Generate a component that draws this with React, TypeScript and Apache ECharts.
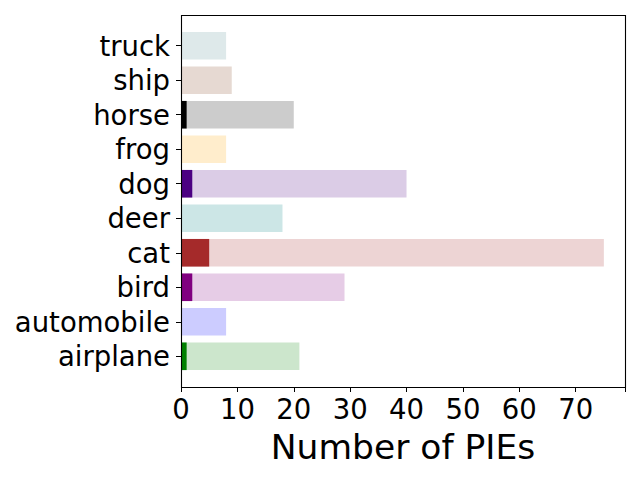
import React, { useEffect, useRef } from "react";
import * as echarts from "echarts";

const categories = ["airplane", "automobile", "bird", "cat", "deer", "dog", "frog", "horse", "ship", "truck"];
const totalValues = [21, 8, 29, 75, 18, 40, 8, 20, 9, 8];
const pieValues = [1, 0, 2, 5, 0, 2, 0, 1, 0, 0];
const lightColors = ["#cce6cc", "#ccccff", "#e6cce6", "#edd4d4", "#cce6e6", "#dbcce6", "#ffedcc", "#cccccc", "#e6d9d2", "#dee9ea"];
const solidColors = ["#008000", "#0000ff", "#800080", "#a52a2a", "#008080", "#4b0082", "#ffa500", "#000000", "#a0522d", "#5f9ea0"];
const xTicks = [0, 10, 20, 30, 40, 50, 60, 70];

const FONT = "DejaVu Sans";

export default function App() {
  const ref = useRef<HTMLDivElement>(null);
  useEffect(() => {
    if (!ref.current) return;
    const chart = echarts.init(ref.current, null, { renderer: "svg" });
    const L = 181, R = 625, T = 15, B = 387;
    const band = (B - T) / 10.78;
    const pad = (0.89 - 0.5) * band;
    chart.setOption({
      animation: false,
      backgroundColor: "#ffffff",
      grid: { left: L, right: 640 - R, top: T + pad, bottom: 480 - (B - pad), containLabel: false },
      xAxis: {
        type: "value",
        min: 0,
        max: 78.75,
        interval: 10,
        offset: pad,
        axisLine: { show: false },
        axisTick: { show: true, length: 5, lineStyle: { color: "#000", width: 1 } },
        axisLabel: {
          fontSize: 27.5,
          fontFamily: FONT,
          color: "#000",
          margin: 8,
          formatter: (v: number) => (xTicks.includes(v) ? String(v) : ""),
        },
        splitLine: { show: false },
        name: "Number of PIEs",
        nameLocation: "middle",
        nameGap: 42,
        nameTextStyle: { fontSize: 34.5, fontFamily: FONT, color: "#000" },
      },
      yAxis: {
        type: "category",
        data: categories,
        axisLine: { show: false },
        axisTick: { show: true, alignWithLabel: true, interval: 0, length: 5, lineStyle: { color: "#000", width: 1 } },
        axisLabel: { fontSize: 27.5, fontFamily: FONT, color: "#000", margin: 11, interval: 0 },
      },
      graphic: [
        {
          type: "rect",
          shape: { x: L + 0.5, y: T + 0.5, width: R - L, height: B - T },
          style: { fill: "none", stroke: "#000", lineWidth: 1.1 },
          z: 100,
        },
      ],
      series: [
        {
          type: "bar",
          barWidth: "80%",
          data: totalValues.map((v, i) => ({ value: v, itemStyle: { color: lightColors[i] } })),
        },
        {
          type: "bar",
          barWidth: "80%",
          barGap: "-100%",
          data: pieValues.map((v, i) => ({ value: v, itemStyle: { color: solidColors[i] } })),
        },
      ],
    });
    return () => chart.dispose();
  }, []);
  return <div ref={ref} style={{ position: "fixed", left: 0, top: 0, width: 640, height: 480 }} />;
}
